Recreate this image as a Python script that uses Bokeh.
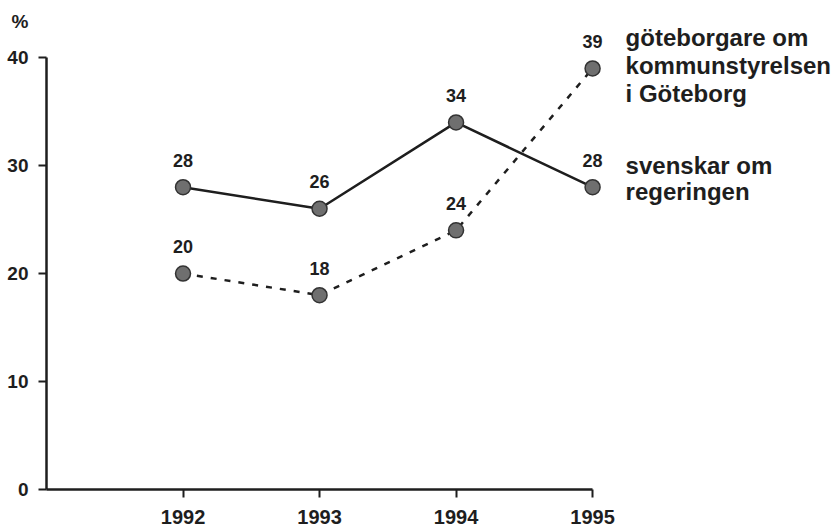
from bokeh.plotting import figure
from bokeh.models import Range1d, LinearAxis, FixedTicker, ColumnDataSource
from bokeh.core.properties import value
from bokeh.embed import file_html
from bokeh.resources import INLINE

years = [1992, 1993, 1994, 1995]
regeringen = [28, 26, 34, 28]
goteborg = [20, 18, 24, 39]
y_ticks = [0, 10, 20, 30, 40]
unit_pos = 43.3
label_goteborg = "göteborgare om\nkommunstyrelsen\ni Göteborg"
label_regeringen = "svenskar om\nregeringen"
unit_label = "%"

FONT = "Liberation Sans"
INK = "#1e1e1e"

p = figure(width=831, height=526, output_backend="svg", toolbar_location=None,
           x_axis_type=None, y_axis_type=None,
           x_range=Range1d(1991, 1996.75), y_range=Range1d(0, 45.29),
           min_border_left=46, min_border_right=0, min_border_top=0, min_border_bottom=36)
p.outline_line_color = None
p.grid.visible = False
p.background_fill_color = "white"

def style_axis(ax, size):
    ax.axis_line_color = INK
    ax.axis_line_width = 2.5
    ax.major_tick_line_color = INK
    ax.major_tick_line_width = 2
    ax.major_tick_in = 0
    ax.major_tick_out = 8
    ax.minor_tick_line_color = None
    ax.major_label_text_font = FONT
    ax.major_label_text_font_style = "bold"
    ax.major_label_text_font_size = size
    ax.major_label_text_color = INK

xaxis = LinearAxis(ticker=FixedTicker(ticks=years), bounds=(1991, 1995))
style_axis(xaxis, "20px")
xaxis.major_label_standoff = 12
xaxis.major_label_text_line_height = 0.8
p.add_layout(xaxis, "below")

# inner y axis: line and ticks only
yaxis = LinearAxis(ticker=FixedTicker(ticks=y_ticks), bounds=(0, 40))
style_axis(yaxis, "19px")
yaxis.major_label_overrides = {t: "" for t in y_ticks}
yaxis.major_label_standoff = 0
p.add_layout(yaxis, "left")

# outer y axis: tick labels and unit only
ylab = LinearAxis(ticker=FixedTicker(ticks=y_ticks + [unit_pos]))
style_axis(ylab, "19px")
ylab.axis_line_color = None
ylab.major_tick_line_color = None
ylab.major_tick_out = 0
ylab.major_label_standoff = 10
ylab.major_label_overrides = {t: str(t) for t in y_ticks} | {unit_pos: unit_label}
p.add_layout(ylab, "left")

src_r = ColumnDataSource(dict(x=years, y=regeringen, t=[str(v) for v in regeringen]))
src_g = ColumnDataSource(dict(x=years, y=goteborg, t=[str(v) for v in goteborg]))

p.line("x", "y", source=src_r, line_color=INK, line_width=2.5)
p.line("x", "y", source=src_g, line_color=INK, line_width=2.5, line_dash="6 8")

for src in (src_r, src_g):
    p.scatter("x", "y", source=src, size=15, fill_color="#6f6f6f",
              line_color="#333333", line_width=1.5)
    p.text("x", "y", text="t", source=src, text_align="center",
           text_baseline="alphabetic", y_offset=-27,
           text_font=value(FONT), text_font_style="bold",
           text_font_size="18px", text_color=INK)

p.text(x=[years[-1]], y=[goteborg[-1]], text=[label_goteborg],
       x_offset=33, y_offset=-44, text_align="left", text_baseline="top",
       text_line_height=1.03, text_font=value(FONT), text_font_style="bold",
       text_font_size="24px", text_color=INK)
p.text(x=[years[-1]], y=[regeringen[-1]], text=[label_regeringen],
       x_offset=33, y_offset=-35, text_align="left", text_baseline="top",
       text_line_height=0.97, text_font=value(FONT), text_font_style="bold",
       text_font_size="24px", text_color=INK)

open("out.html", "w").write(file_html(p, INLINE))
